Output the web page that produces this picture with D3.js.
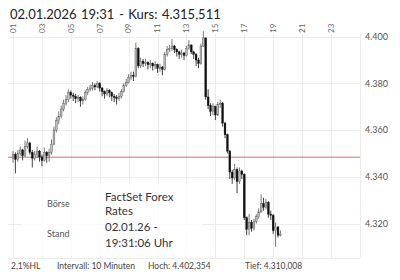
<!DOCTYPE html>
<html>
<head>
<meta charset="utf-8">
<script src="https://cdn.jsdelivr.net/npm/d3@7"></script>
<style>
  body { margin: 0; background: #fff; }
  svg { display: block; font-family: Lato, "Open Sans", sans-serif; }
</style>
</head>
<body>
<svg id="chart"></svg>
<script>
// 10 minute candles, first one at 01:00, last one at 19:30
let startHour = 1, stepHour = 1 / 6
let firstOpen = 4348.0
let closes = [
  4349.5, 4347.5, 4350.0, 4351.5, 4349.0, 4353.0, 4354.5, 4350.5, 4348.0, 4349.5,
  4351.0, 4348.5, 4347.0, 4350.5, 4349.0, 4350.5, 4354.0, 4360.0, 4364.0, 4366.0,
  4369.0, 4371.5, 4373.0, 4376.0, 4375.0, 4374.5, 4373.5, 4374.0, 4372.5, 4373.0,
  4376.0, 4377.5, 4378.0, 4379.0, 4378.5, 4380.0, 4378.0, 4376.5, 4375.5, 4377.0,
  4376.0, 4374.5, 4374.0, 4373.5, 4374.5, 4376.5, 4379.0, 4380.5, 4382.5, 4383.5,
  4383.0, 4395.0, 4387.5, 4389.5, 4388.5, 4389.0, 4388.0, 4388.5, 4387.5, 4388.0,
  4386.5, 4387.0, 4386.0, 4392.5, 4394.5, 4395.0, 4396.0, 4394.5, 4393.5, 4392.5,
  4393.0, 4392.0, 4395.0, 4396.5, 4393.5, 4392.5, 4390.0, 4388.5, 4396.0, 4399.5,
  4374.2, 4370.5, 4368.0, 4370.0, 4366.5, 4371.0, 4371.5, 4363.0, 4358.0, 4351.0,
  4342.0, 4339.5, 4343.0, 4338.0, 4342.5, 4341.0, 4322.5, 4317.5, 4320.5, 4318.0,
  4321.0, 4323.0, 4325.0, 4328.5, 4327.0, 4329.0, 4324.0, 4323.5, 4317.0, 4318.5,
  4315.0, 4315.511
]
let highs = [
  4351.0, 4350.5, 4351.5, 4353.0, 4352.0, 4355.5, 4356.5, 4355.0, 4351.5, 4351.0,
  4353.0, 4351.5, 4349.5, 4352.5, 4351.0, 4352.0, 4356.0, 4361.5, 4365.5, 4368.0,
  4370.5, 4373.0, 4375.0, 4377.5, 4377.0, 4376.0, 4375.5, 4375.0, 4374.5, 4374.5,
  4377.0, 4378.5, 4379.5, 4380.5, 4380.0, 4381.0, 4380.5, 4378.5, 4377.0, 4378.0,
  4377.5, 4376.5, 4375.5, 4375.0, 4376.0, 4377.5, 4380.0, 4382.0, 4384.0, 4385.0,
  4385.0, 4397.5, 4395.5, 4391.0, 4390.5, 4390.5, 4389.5, 4390.0, 4389.0, 4389.5,
  4388.5, 4388.5, 4387.5, 4393.5, 4396.0, 4396.5, 4399.0, 4396.5, 4395.0, 4394.0,
  4394.5, 4393.5, 4396.0, 4398.5, 4396.5, 4394.0, 4393.0, 4391.0, 4397.0, 4402.354,
  4399.5, 4377.5, 4371.5, 4371.5, 4370.5, 4372.0, 4373.0, 4372.0, 4363.5, 4358.5,
  4351.5, 4343.0, 4345.5, 4344.0, 4344.0, 4343.0, 4341.5, 4323.0, 4324.0, 4321.5,
  4322.0, 4324.0, 4326.5, 4332.5, 4331.0, 4330.5, 4329.5, 4325.5, 4324.0, 4320.5,
  4319.0, 4317.0
]
let lows = [
  4346.0, 4341.5, 4346.5, 4349.0, 4347.0, 4348.5, 4352.0, 4349.5, 4344.0, 4347.0,
  4348.0, 4346.5, 4344.5, 4346.5, 4346.0, 4346.5, 4349.5, 4353.5, 4359.0, 4362.5,
  4365.0, 4368.0, 4370.5, 4372.0, 4373.5, 4372.5, 4371.5, 4372.0, 4370.0, 4371.0,
  4372.5, 4375.0, 4376.5, 4377.0, 4377.0, 4378.0, 4376.5, 4374.5, 4373.5, 4374.5,
  4374.0, 4372.5, 4372.0, 4371.0, 4372.5, 4373.5, 4376.0, 4378.5, 4380.0, 4381.5,
  4381.0, 4382.5, 4386.5, 4386.5, 4387.0, 4387.5, 4386.0, 4386.5, 4385.5, 4386.0,
  4384.5, 4385.0, 4383.5, 4385.5, 4391.5, 4393.5, 4394.0, 4393.0, 4391.5, 4390.5,
  4391.0, 4390.0, 4391.5, 4394.5, 4392.5, 4390.5, 4387.5, 4386.5, 4388.0, 4395.5,
  4373.0, 4369.0, 4366.0, 4366.5, 4364.3, 4366.0, 4369.5, 4361.5, 4356.5, 4350.0,
  4339.0, 4337.0, 4338.5, 4333.0, 4337.0, 4339.0, 4321.5, 4315.0, 4315.0, 4316.5,
  4317.0, 4320.0, 4322.0, 4324.5, 4325.5, 4326.0, 4322.5, 4321.5, 4315.5, 4310.008,
  4314.0, 4314.5
]
let prevClose = 4348.4
let hourTicks = [1, 3, 5, 7, 9, 11, 13, 15, 17, 19, 21, 23]
let priceTicks = [4400, 4380, 4360, 4340, 4320]

let titleText = '02.01.2026 19:31 - Kurs: 4.315,511'
let infoRows = [['Börse', ['FactSet Forex', 'Rates']], ['Stand', ['02.01.26 -', '19:31:06 Uhr']]]
let footerItems = ['2,1%HL', 'Intervall: 10 Minuten', 'Hoch: 4.402,354', 'Tief: 4.310,008']

let svgWidth = 400, svgHeight = 280
let plotLeft = 8, plotRight = 360, plotTop = 34, plotBottom = 258

let de = d3.formatLocale({ decimal: ',', thousands: '.', grouping: [3], currency: ['', ' €'] })
let fmtTick = de.format(',.0f')

let candles = closes.map((c, i) => ({
  hour: startHour + i * stepHour,
  open: i === 0 ? firstOpen : closes[i - 1],
  high: highs[i], low: lows[i], close: c
}))

let svg = d3.select('#chart').attr('width', svgWidth).attr('height', svgHeight)

let x = d3.scaleLinear().domain([1, 23]).range([13, 331])
let y = d3.scaleLinear().domain([4300, 4400]).range([270.2, 36.7])

// grid
let grid = svg.append('g').attr('stroke', '#ececec').attr('stroke-width', 1)
grid.selectAll('.vline').data(hourTicks.concat([25])).enter().append('line')
  .attr('x1', d => Math.round(x(d)) + 0.5).attr('x2', d => Math.round(x(d)) + 0.5)
  .attr('y1', plotTop).attr('y2', plotBottom)
grid.selectAll('.hline').data(priceTicks).enter().append('line')
  .attr('x1', plotLeft).attr('x2', plotRight)
  .attr('y1', d => Math.round(y(d)) + 0.5).attr('y2', d => Math.round(y(d)) + 0.5)
grid.append('line').attr('x1', plotLeft).attr('x2', plotRight)
  .attr('y1', plotBottom + 0.5).attr('y2', plotBottom + 0.5)

// hour labels, rotated
svg.append('g').selectAll('text').data(hourTicks).enter().append('text')
  .attr('transform', d => `translate(${x(d)},33) rotate(-90)`)
  .attr('dy', '0.35em')
  .attr('font-size', 8).attr('fill', '#666')
  .text(d => d3.format('02d')(d))

// price labels
svg.append('g').selectAll('text').data(priceTicks).enter().append('text')
  .attr('x', 365).attr('y', d => y(d)).attr('dy', '0.35em')
  .attr('font-size', 9).attr('fill', '#555')
  .text(d => fmtTick(d))

// info box over the lower left part of the plot
let info = svg.append('g')
info.append('rect').attr('x', 22).attr('y', 183).attr('width', 180).attr('height', 73)
  .attr('fill', '#fff').attr('fill-opacity', 0.75)
let rowY = [[200.7, 215], [231, 246.7]]
let labelY = [206.7, 237.3]
infoRows.forEach((row, i) => {
  info.append('text').attr('x', 47).attr('y', labelY[i])
    .attr('font-size', 9).attr('fill', '#555').text(row[0])
  row[1].forEach((t, j) => {
    info.append('text').attr('x', 105).attr('y', rowY[i][j])
      .attr('font-size', 11.5).attr('fill', '#333').text(t)
  })
})

// previous close
svg.append('line')
  .attr('x1', plotLeft).attr('x2', plotRight)
  .attr('y1', y(prevClose)).attr('y2', y(prevClose))
  .attr('stroke', '#e06a6a').attr('stroke-width', 1)

// candles
let cg = svg.append('g').selectAll('g').data(candles).enter().append('g')
cg.append('line')
  .attr('x1', d => x(d.hour)).attr('x2', d => x(d.hour))
  .attr('y1', d => y(d.high)).attr('y2', d => y(d.low))
  .attr('stroke', d => d.close >= d.open ? '#555' : '#111').attr('stroke-width', 0.8)
cg.append('rect')
  .attr('x', d => x(d.hour) - 0.9).attr('width', 1.8)
  .attr('y', d => y(Math.max(d.open, d.close)))
  .attr('height', d => Math.max(0.8, Math.abs(y(d.open) - y(d.close))))
  .attr('fill', d => d.close >= d.open ? '#bbb' : '#111')
  .attr('stroke', d => d.close >= d.open ? '#555' : '#111').attr('stroke-width', 0.4)

// title
svg.append('text').attr('x', 10).attr('y', 19)
  .attr('word-spacing', 1.2)
  .attr('font-size', 13).attr('fill', '#222').text(titleText)

// footer
let footerX = [11, 57, 148, 245]
svg.append('g').selectAll('text').data(footerItems).enter().append('text')
  .attr('x', (d, i) => footerX[i]).attr('y', 268.5)
  .attr('font-size', 8.5).attr('fill', '#444')
  .text(d => d)
</script>
</body>
</html>
